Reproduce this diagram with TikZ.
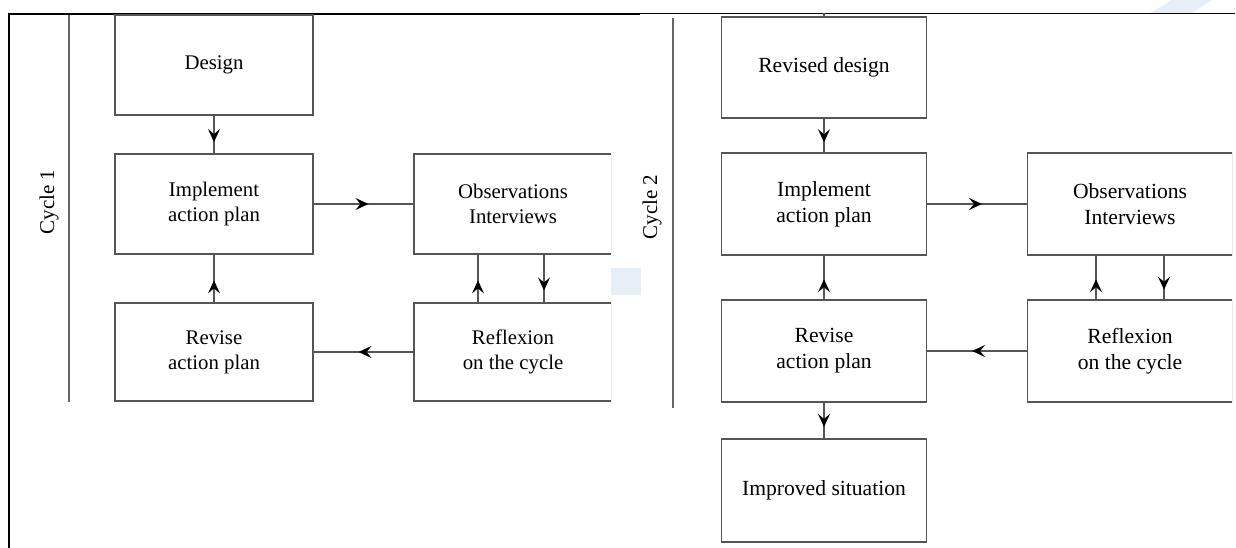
\documentclass[tikz,border=0pt]{standalone}
\usepackage{fontspec}
\setmainfont{Liberation Serif}
\usetikzlibrary{arrows.meta,decorations.markings}
\definecolor{wm}{HTML}{E8EEF8}
\definecolor{ln}{HTML}{555555}
\tikzset{
  boxa/.style={draw=ln, line width=1.2pt, minimum width=198pt, minimum height=100pt,
    inner sep=0pt, align=center, font=\fontsize{20.8}{25}\selectfont},
  boxb/.style={draw=ln, line width=1.2pt, minimum width=205pt, minimum height=102pt,
    inner sep=0pt, align=center, font=\fontsize{21.6}{26}\selectfont},
  arr/.style={draw=ln, line width=1.2pt, postaction={decorate},
    decoration={markings, mark=at position #1 with
      {\arrow{Stealth[length=13pt,width=12pt,inset=5pt,black]}}}},
  sep/.style={draw=black!60, line width=1.5pt},
  cyc/.style={rotate=90, inner sep=0pt, font=\fontsize{21}{25}\selectfont}
}
\begin{document}
\begin{tikzpicture}[x=1pt,y=-1pt]
\useasboundingbox (0,0) rectangle (1236,548);
% faint background marks
\fill[wm] (611,268) rectangle (641,295);
\fill[wm] (1150,13) -- (1172,0) -- (1212,0) -- (1192,13) -- cycle;
% frame
\draw[line width=2.5pt] (9,548) -- (9,14) -- (640,14);
\draw[line width=1.3pt] (640,13.5) -- (1235,13.5);
% cycle separators
\draw[sep] (69,15) -- (69,402);
\draw[sep] (673,18) -- (673,408);
\node[cyc] (c1) at (49,202) {Cycle 1};
\node[cyc] (c2) at (652,207) {Cycle 2};
% ---------------- cycle 1 ----------------
\node[boxa] (d1) at (214,65) {Design};
\node[boxa] (i1) at (214,204) {Implement\\action plan};
\node[boxa, minimum height=98pt] (r1) at (214,352) {Revise\\action plan};
\begin{scope}
\clip (300,100) rectangle (611,450);
\node[boxa] (o1) at (513,204) {Observations\\Interviews};
\node[boxa, minimum height=98pt] (f1) at (513,352) {Reflexion\\on the cycle};
\end{scope}
\coordinate (u1) at (478,0);
\coordinate (w1) at (544,0);
\draw[arr=0.7] (d1) -- (i1);
\draw[arr=0.55] (i1) -- (o1);
\draw[arr=0.55] (f1) -- (r1);
\draw[arr=0.46] (r1) -- (i1);
\draw[arr=0.46] (f1.north -| u1) -- (o1.south -| u1);
\draw[arr=0.75] (o1.south -| w1) -- (f1.north -| w1);
% ---------------- cycle 2 ----------------
\node[boxb, minimum height=101pt] (d2) at (824,67.5) {Revised design};
\node[boxb] (i2) at (824,204) {Implement\\action plan};
\node[boxb] (r2) at (824,351) {Revise\\action plan};
\node[boxb, minimum height=103pt] (s2) at (824,490.5) {Improved situation};
\begin{scope}
\clip (950,100) rectangle (1232,450);
\node[boxb] (o2) at (1130,204) {Observations\\Interviews};
\node[boxb] (f2) at (1130,351) {Reflexion\\on the cycle};
\end{scope}
\coordinate (top2) at (824,13.5);
\coordinate (u2) at (1096,0);
\coordinate (w2) at (1164,0);
\draw[draw=ln, line width=1.2pt] (d2.north) -- (top2);
\draw[arr=0.7] (d2) -- (i2);
\draw[arr=0.55] (i2) -- (o2);
\draw[arr=0.55] (f2) -- (r2);
\draw[arr=0.46] (r2) -- (i2);
\draw[arr=0.68] (r2) -- (s2);
\draw[arr=0.46] (f2.north -| u2) -- (o2.south -| u2);
\draw[arr=0.78] (o2.south -| w2) -- (f2.north -| w2);
\end{tikzpicture}
\end{document}
